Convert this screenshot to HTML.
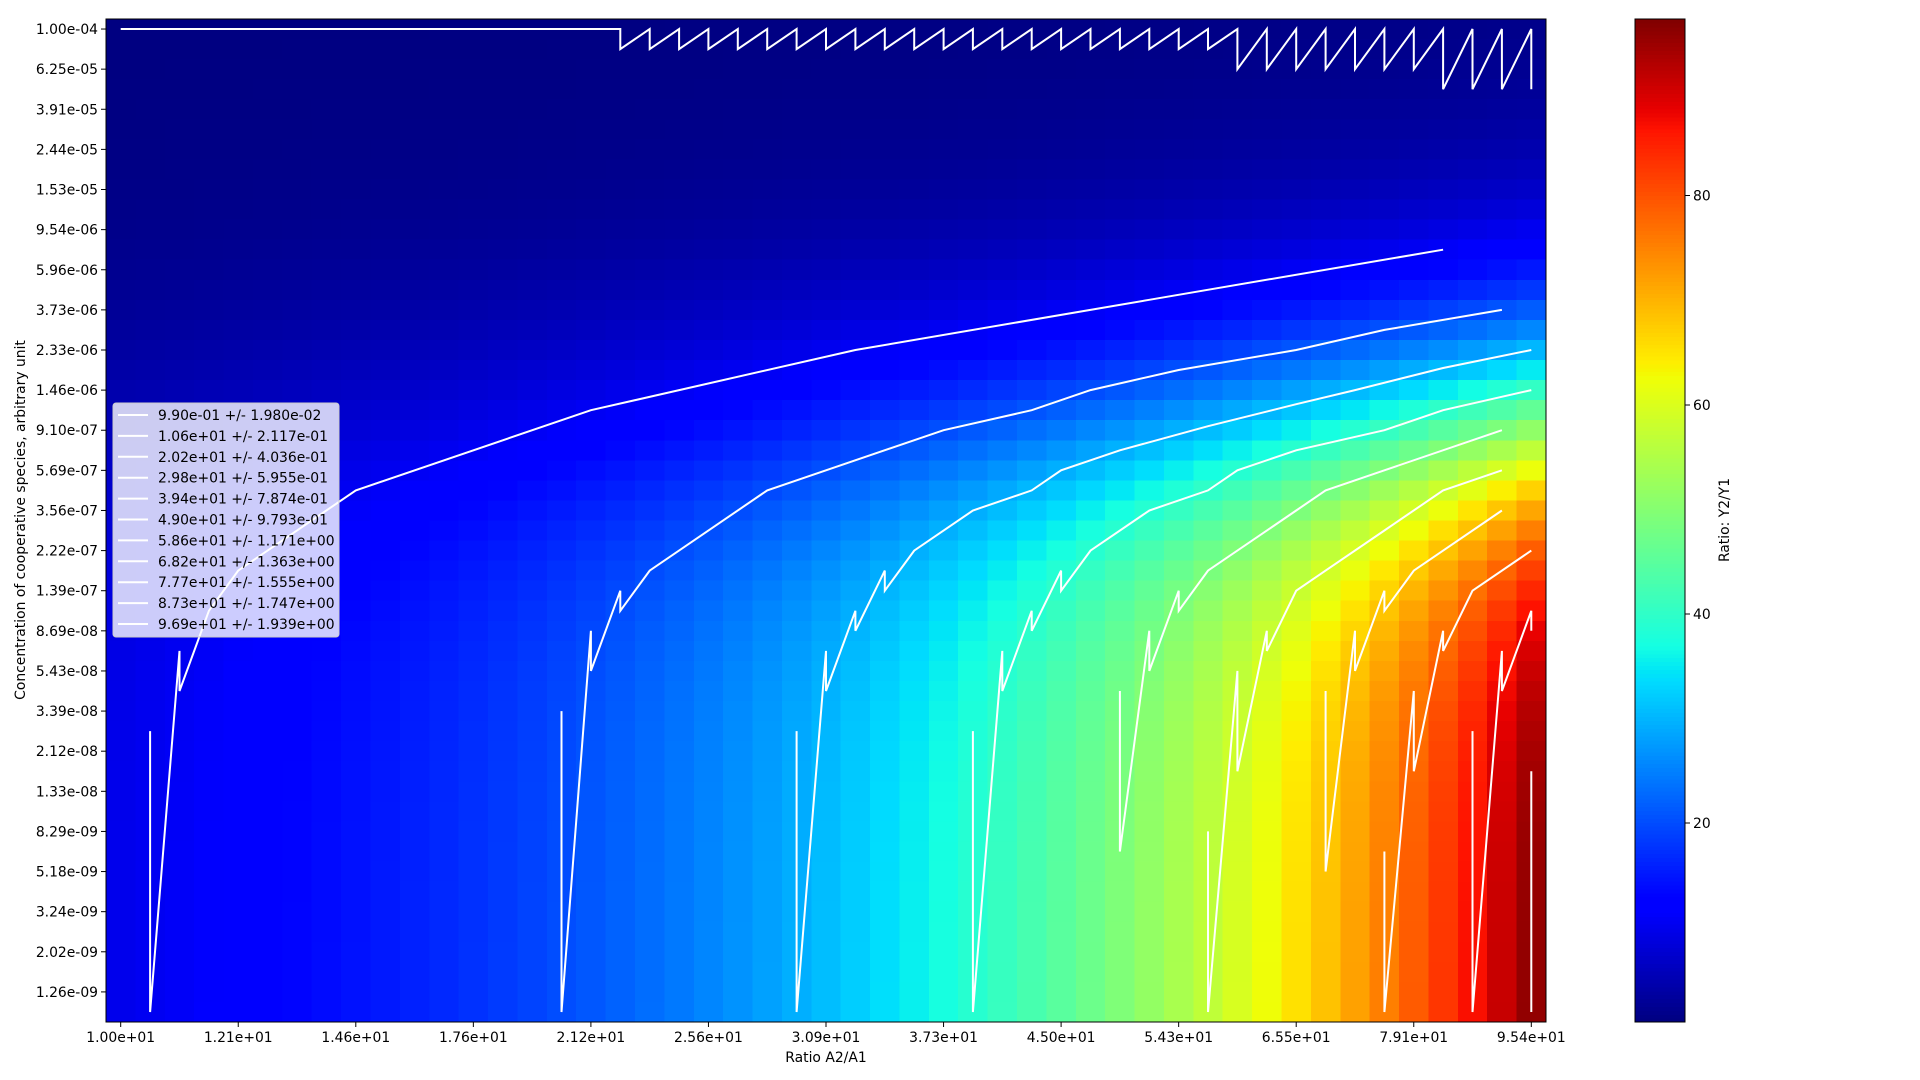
<!DOCTYPE html>
<html>
<head>
<meta charset="utf-8">
<style>
  html, body { margin:0; padding:0; background:#ffffff; }
  svg { display:block; font-family: "DejaVu Sans", "Liberation Sans", sans-serif; }
</style>
</head>
<body>
<svg id="chart" width="1920" height="1080" viewBox="0 0 1920 1080" xmlns="http://www.w3.org/2000/svg">
  <rect x="0" y="0" width="1920" height="1080" fill="#ffffff"/>
  <g id="cells" shape-rendering="crispEdges"></g>
  <g id="contours"></g>
  <rect x="106" y="19" width="1440" height="1003" fill="none" stroke="#000" stroke-width="1"/>
  <g id="xaxis"></g>
  <g id="yaxis"></g>
  <text x="826" y="1062" text-anchor="middle" font-size="13.9" fill="#000">Ratio A2/A1</text>
  <text transform="translate(25,520) rotate(-90)" text-anchor="middle" font-size="13.9" fill="#000">Concentration of cooperative species, arbitrary unit</text>
  <g id="legend"></g>
  <g id="colorbar" shape-rendering="crispEdges"></g>
  <text transform="translate(1729,520) rotate(-90)" text-anchor="middle" font-size="13.9" fill="#000">Ratio: Y2/Y1</text>
</svg>
<script>
// ---------- data ----------
const colValues = [10.00,10.48,10.99,11.51,12.07,12.65,13.26,13.90,14.56,15.26,16.00,16.77,17.58,18.42,19.31,20.24,21.21,22.23,23.30,24.42,25.60,26.83,28.12,29.47,30.89,32.38,33.94,35.57,37.28,39.08,40.96,42.93,44.99,47.16,49.43,51.80,54.30,56.91,59.65,62.52,65.53,68.68,71.99,75.45,79.08,82.88,86.87,91.05,95.43];
const rowFactor = [0.0103,0.0130,0.0164,0.0206,0.0259,0.0326,0.0409,0.0511,0.0638,0.0794,0.0983,0.1212,0.1486,0.1808,0.2182,0.2610,0.3087,0.3610,0.4168,0.4748,0.5335,0.5913,0.6466,0.6983,0.7454,0.7874,0.8241,0.8556,0.8823,0.9046,0.9230,0.9382,0.9505,0.9604,0.9685,0.9749,0.9800,0.9842,0.9875,0.9900,0.9921,0.9937,0.9950,0.9961,0.9969,0.9975,0.9981,0.9985,0.9988,0.9990];
const xTickLabels = ["1.00e+01","1.21e+01","1.46e+01","1.76e+01","2.12e+01","2.56e+01","3.09e+01","3.73e+01","4.50e+01","5.43e+01","6.55e+01","7.91e+01","9.54e+01"];
const yTickLabels = ["1.00e-04","6.25e-05","3.91e-05","2.44e-05","1.53e-05","9.54e-06","5.96e-06","3.73e-06","2.33e-06","1.46e-06","9.10e-07","5.69e-07","3.56e-07","2.22e-07","1.39e-07","8.69e-08","5.43e-08","3.39e-08","2.12e-08","1.33e-08","8.29e-09","5.18e-09","3.24e-09","2.02e-09","1.26e-09"];
const colorTicks = [20,40,60,80];
const vmin = 0.99;
const vmax = 96.9;
const legendLabels = ["9.90e-01 +/- 1.980e-02","1.06e+01 +/- 2.117e-01","2.02e+01 +/- 4.036e-01","2.98e+01 +/- 5.955e-01","3.94e+01 +/- 7.874e-01","4.90e+01 +/- 9.793e-01","5.86e+01 +/- 1.171e+00","6.82e+01 +/- 1.363e+00","7.77e+01 +/- 1.555e+00","8.73e+01 +/- 1.747e+00","9.69e+01 +/- 1.939e+00"];
// contour vertices in grid coordinates [column, row]
const contour1 = [[0,0],[17,0],[17,1],[18,0],[18,1],[19,0],[19,1],[20,0],[20,1],[21,0],[21,1],[22,0],[22,1],[23,0],[23,1],[24,0],[24,1],[25,0],[25,1],[26,0],[26,1],[27,0],[27,1],[28,0],[28,1],[29,0],[29,1],[30,0],[30,1],[31,0],[31,1],[32,0],[32,1],[33,0],[33,1],[34,0],[34,1],[35,0],[35,1],[36,0],[36,1],[37,0],[37,1],[38,0],[38,2],[39,0],[39,2],[40,0],[40,2],[41,0],[41,2],[42,0],[42,2],[43,0],[43,2],[44,0],[44,2],[45,0],[45,3],[46,0],[46,3],[47,0],[47,3],[48,0],[48,3]];
const contour2 = [[1,35],[1,49],[2,31],[2,33],[3,29],[4,27],[8,23],[16,19],[25,16],[35,13.5],[45,11]];
const contour3 = [[15,34],[15,49],[16,30],[16,32],[17,28],[17,29],[18,27],[22,23],[24,22],[28,20],[31,19],[33,18],[36,17],[40,16],[43,15],[47,14]];
const contour4 = [[23,35],[23,49],[24,31],[24,33],[25,29],[25,30],[26,27],[26,28],[27,26],[29,24],[31,23],[32,22],[34,21],[37,19.8],[40,18.7],[42,18],[45,16.9],[48,16]];
const contour5 = [[29,35],[29,49],[30,31],[30,33],[31,29],[31,30],[32,27],[32,28],[33,26],[35,24],[37,23],[38,22],[40,21],[43,20],[45,19],[48,18]];
const contour6 = [[34,33],[34,41],[35,30],[35,32],[36,28],[36,29],[37,27],[40,24],[41,23],[43,22],[47,20]];
const contour7 = [[37,40],[37,49],[38,32],[38,37],[39,30],[39,31],[40,28],[41,27],[43,25],[45,23],[47,22]];
const contour8 = [[41,33],[41,42],[42,30],[42,32],[43,28],[43,29],[44,27],[47,24]];
const contour9 = [[43,41],[43,49],[44,33],[44,37],[45,30],[45,31],[46,28],[48,26]];
const contour10 = [[46,35],[46,49],[47,31],[47,33],[48,29],[48,30]];
const contour11 = [[48,37],[48,49]];
const contours = [contour1,contour2,contour3,contour4,contour5,contour6,contour7,contour8,contour9,contour10,contour11];

// ---------- geometry ----------
const NS = "http://www.w3.org/2000/svg";
const PL = 106, PT = 19, PW = 1440, PH = 1003;
const nCols = colValues.length, nRows = rowFactor.length;
const cw = PW / nCols, ch = PH / nRows;
function xPos(j){ return PL + cw * (j + 0.5); }
function yPos(i){ return PT + ch * (i + 0.5); }
const CBX = 1635, CBW = 50;
function cbY(v){ return PT + PH - (v - vmin) / (vmax - vmin) * PH; }

function jet(t){
  t = Math.max(0, Math.min(1, t));
  let r, g, b;
  if (t < 0.35) r = 0; else if (t < 0.66) r = (t-0.35)/0.31; else if (t < 0.89) r = 1; else r = 1 - 0.5*(t-0.89)/0.11;
  if (t < 0.125) g = 0; else if (t < 0.375) g = (t-0.125)/0.25; else if (t < 0.64) g = 1; else if (t < 0.91) g = 1-(t-0.64)/0.27; else g = 0;
  if (t < 0.11) b = 0.5 + 0.5*t/0.11; else if (t < 0.34) b = 1; else if (t < 0.65) b = 1-(t-0.34)/0.31; else b = 0;
  return "rgb(" + Math.round(r*255) + "," + Math.round(g*255) + "," + Math.round(b*255) + ")";
}
function mk(tag, attrs, parent){
  const e = document.createElementNS(NS, tag);
  for (const k in attrs) e.setAttribute(k, attrs[k]);
  parent.appendChild(e);
  return e;
}

// ---------- heatmap ----------
const gCells = document.getElementById("cells");
for (let i = 0; i < nRows; i++){
  for (let j = 0; j < nCols; j++){
    const v = 1 + (colValues[j] - 1) * rowFactor[i];
    const r = mk("rect", {x: (PL + cw*j).toFixed(2), y: (PT + ch*i).toFixed(2), width: (cw+0.6).toFixed(2), height: (ch+0.6).toFixed(2), fill: jet((v - vmin)/(vmax - vmin))}, gCells);
    
    
  }
}

// ---------- contours ----------
const gCont = document.getElementById("contours");
contours.forEach(function(pts, k){
  const d = pts.map(function(p, n){ return (n ? "L" : "M") + xPos(p[0]).toFixed(1) + "," + yPos(p[1]).toFixed(1); }).join(" ");
  const path = mk("path", {d: d, fill: "none", stroke: "#ffffff", "stroke-width": 2, "stroke-linejoin": "miter"}, gCont);
  
  
});

// ---------- axes ----------
const gx = document.getElementById("xaxis");
xTickLabels.forEach(function(lbl, k){
  const x = xPos(k*4);
  const t = mk("line", {x1: x, y1: PT+PH, x2: x, y2: PT+PH+5, stroke: "#000", "stroke-width": 1}, gx);
  
  
  const tx = mk("text", {x: x, y: PT+PH+20, "text-anchor": "middle", "font-size": 13.9, fill: "#000"}, gx);
  tx.textContent = lbl;
  
  
});
const gy = document.getElementById("yaxis");
yTickLabels.forEach(function(lbl, k){
  const y = yPos(k*2);
  const t = mk("line", {x1: PL-5, y1: y, x2: PL, y2: y, stroke: "#000", "stroke-width": 1}, gy);
  
  
  const tx = mk("text", {x: PL-8, y: y+5, "text-anchor": "end", "font-size": 13.9, fill: "#000"}, gy);
  tx.textContent = lbl;
  
  
});

// ---------- legend ----------
const gl = document.getElementById("legend");
const lgBox = mk("rect", {x: 113, y: 403, width: 226, height: 234, rx: 3, fill: "#ffffff", "fill-opacity": 0.8, stroke: "#cccccc", "stroke-width": 1}, gl);


legendLabels.forEach(function(lbl, k){
  const y = 415 + k*20.9;
  const ln = mk("line", {x1: 118, y1: y, x2: 148, y2: y, stroke: "#ffffff", "stroke-width": 2}, gl);
  
  
  const tx = mk("text", {x: 158, y: y+5, "font-size": 13.9, fill: "#000"}, gl);
  tx.textContent = lbl;
  
  
});

// ---------- colorbar ----------
const gc = document.getElementById("colorbar");
const nSlices = 256;
for (let s = 0; s < nSlices; s++){
  const v0 = vmin + (vmax - vmin) * s / nSlices;
  const v1 = vmin + (vmax - vmin) * (s+1) / nSlices;
  const y1 = cbY(v1), y0 = cbY(v0);
  const r = mk("rect", {x: CBX, y: y1.toFixed(2), width: CBW, height: (y0 - y1 + 0.6).toFixed(2), fill: jet((s + 0.5)/nSlices)}, gc);
  
  
}
const cbFrame = mk("rect", {x: CBX, y: PT, width: CBW, height: PH, fill: "none", stroke: "#000", "stroke-width": 1}, gc);


colorTicks.forEach(function(v){
  const y = cbY(v);
  const t = mk("line", {x1: CBX+CBW, y1: y, x2: CBX+CBW+5, y2: y, stroke: "#000", "stroke-width": 1}, gc);
  
  
  const tx = mk("text", {x: CBX+CBW+8, y: y+5, "font-size": 13.9, fill: "#000"}, gc);
  tx.textContent = String(v);
  
  
});
</script>
</body>
</html>
